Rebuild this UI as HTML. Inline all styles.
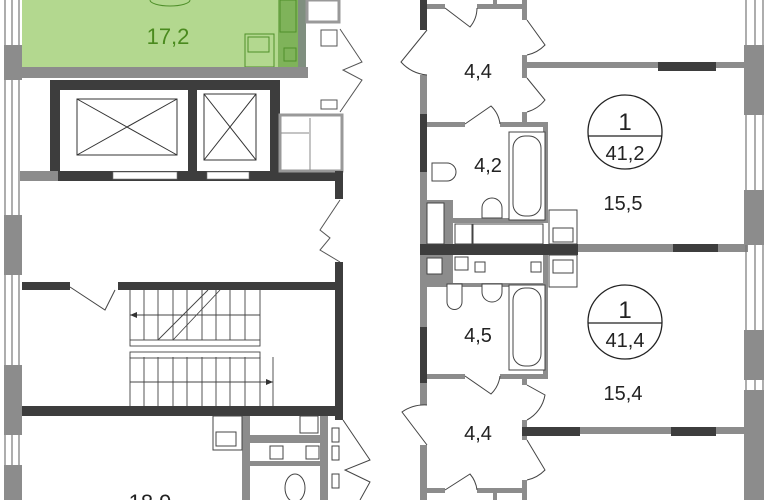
<!DOCTYPE html>
<html><head><meta charset="utf-8"><style>
html,body{margin:0;padding:0;background:#fff;width:770px;height:500px;overflow:hidden}
svg{display:block}
text{font-family:"Liberation Sans",sans-serif}
</style></head><body>
<svg width="770" height="500" viewBox="0 0 770 500" xmlns="http://www.w3.org/2000/svg">
<!-- green apartment -->
<rect x="22" y="0" width="276" height="67" fill="#b3d88f"/>
<rect x="278" y="0" width="20" height="67" fill="#7fb35a"/>
<rect x="298" y="0" width="8" height="70" fill="#7f8f7f"/>
<g fill="none" stroke="#4f8f2a" stroke-width="1">
<rect x="280" y="0" width="16" height="32"/><rect x="284" y="48" width="12" height="13"/>
<rect x="245" y="34" width="29" height="33"/><rect x="248" y="37" width="21" height="15"/>
<path d="M150 0 A20 6 0 0 0 190 0"/>
</g>
<text x="168" y="44" font-size="22" fill="#4a8a1e" text-anchor="middle">17,2</text>
<!-- left exterior wall -->
<g stroke="#777" stroke-width="1.2"><line x1="5" y1="0" x2="5" y2="500"/><line x1="12" y1="0" x2="12" y2="500"/><line x1="19" y1="0" x2="19" y2="500"/></g>
<rect x="4" y="45" width="18" height="35" fill="#8c8c8c"/>
<rect x="4" y="215" width="18" height="60" fill="#8c8c8c"/>
<rect x="4" y="365" width="18" height="70" fill="#8c8c8c"/>
<rect x="4" y="465" width="18" height="35" fill="#8c8c8c"/>
<!-- wall below green -->
<rect x="20" y="67" width="288" height="11" fill="#8c8c8c"/>
<!-- lift block -->
<rect x="50" y="80" width="230" height="100" fill="#3d3d3d"/>
<rect x="60" y="90" width="128" height="81" fill="#fff"/>
<rect x="197" y="90" width="73" height="81" fill="#fff"/>
<rect x="58" y="171" width="285" height="10" fill="#3d3d3d"/>
<rect x="20" y="171" width="38" height="10" fill="#8c8c8c"/>
<rect x="113" y="172" width="64" height="7" fill="#fff" stroke="#777" stroke-width="0.6"/>
<rect x="207" y="172" width="42" height="7" fill="#fff" stroke="#777" stroke-width="0.6"/>
<g fill="none" stroke="#333" stroke-width="1">
<rect x="77" y="99" width="100" height="56"/><path d="M77 99L177 155M177 99L77 155"/>
<rect x="204" y="94" width="52" height="66"/><path d="M204 94L256 160M256 94L204 160"/>
</g>
<rect x="280" y="115" width="62" height="56" fill="#fff" stroke="#999" stroke-width="3"/>
<line x1="310" y1="118" x2="310" y2="170" stroke="#888"/>
<line x1="281" y1="133" x2="309" y2="133" stroke="#888"/>
<rect x="335" y="171" width="8" height="28" fill="#3d3d3d"/>
<rect x="307" y="0" width="32" height="22" fill="#fff" stroke="#999" stroke-width="3"/>
<g fill="none" stroke="#555" stroke-width="1">
<rect x="321" y="30" width="16" height="16"/><rect x="321" y="100" width="16" height="9"/>
<path d="M340 29 L362 62 L343 70 L362 80 L340 112"/>
<path d="M340 200 L320 230 L330 238 L320 250 L340 262"/>
</g>
<!-- stair core -->
<rect x="22" y="282" width="48" height="8" fill="#3d3d3d"/>
<rect x="118" y="282" width="225" height="8" fill="#3d3d3d"/>
<rect x="335" y="262" width="8" height="158" fill="#3d3d3d"/>
<rect x="22" y="406" width="321" height="10" fill="#3d3d3d"/>
<path d="M70 287 L105 310 L115 290" fill="none" stroke="#444"/>
<g stroke="#444" stroke-width="0.9" fill="none">
<path d="M130 290V340M144 290V340M158 290V340M173 290V340M187 290V340M202 290V340M216 290V340M230 290V340M245 290V340M260 290V340"/>
<path d="M130 357V406M144 357V406M158 357V406M173 357V406M187 357V406M202 357V406M216 357V406M230 357V406M245 357V406M260 357V406"/>
<path d="M130 315H260M130 382H273M273 357V406"/>
<rect x="130" y="340" width="130" height="6"/><rect x="130" y="352" width="130" height="6"/>
<path d="M158 340L208 290M173 340L220 290"/>
</g>
<polygon points="130,315 137,312 137,318" fill="#333"/>
<polygon points="273,382 266,379 266,385" fill="#333"/>
<!-- bottom-left rooms -->
<rect x="242" y="416" width="8" height="84" fill="#8c8c8c"/>
<rect x="320" y="416" width="8" height="84" fill="#8c8c8c"/>
<rect x="250" y="435" width="70" height="8" fill="#8c8c8c"/>
<rect x="250" y="461" width="70" height="5" fill="#8c8c8c"/>
<g fill="none" stroke="#444" stroke-width="1">
<rect x="213" y="416" width="29" height="34"/><rect x="216" y="432" width="20" height="14"/>
<rect x="300" y="416" width="18" height="17"/><rect x="270" y="446" width="13" height="13"/><rect x="306" y="446" width="13" height="13"/>
<ellipse cx="295" cy="488" rx="10" ry="14"/>
<rect x="332" y="428" width="7" height="14"/><rect x="332" y="446" width="7" height="14"/><rect x="332" y="474" width="7" height="14"/>
<path d="M343 420 L370 460 L345 470 L370 482 L360 500"/>
</g>
<text x="150" y="510" font-size="22" fill="#222" text-anchor="middle">18,9</text>

<!-- right: left corridor wall x420-427 -->
<rect x="420" y="0" width="7" height="30" fill="#3d3d3d"/>
<rect x="420" y="75" width="7" height="39" fill="#8c8c8c"/>
<rect x="420" y="114" width="7" height="58" fill="#3d3d3d"/>
<rect x="420" y="172" width="7" height="155" fill="#8c8c8c"/>
<rect x="420" y="327" width="7" height="56" fill="#3d3d3d"/>
<rect x="420" y="383" width="7" height="22" fill="#8c8c8c"/>
<rect x="420" y="445" width="7" height="55" fill="#8c8c8c"/>
<!-- hall right walls x522-527 -->
<rect x="522" y="0" width="5" height="20" fill="#8c8c8c"/>
<rect x="522" y="55" width="5" height="23" fill="#8c8c8c"/>
<rect x="522" y="112" width="5" height="12" fill="#8c8c8c"/>
<rect x="522" y="375" width="5" height="10" fill="#8c8c8c"/>
<rect x="522" y="420" width="5" height="20" fill="#8c8c8c"/>
<rect x="522" y="480" width="5" height="20" fill="#8c8c8c"/>
<!-- hall top/bottom walls -->
<rect x="427" y="4" width="18" height="5" fill="#8c8c8c"/>
<rect x="477" y="4" width="50" height="5" fill="#8c8c8c"/>
<rect x="493" y="0" width="4" height="6" fill="#8c8c8c"/>
<rect x="427" y="488" width="18" height="5" fill="#8c8c8c"/>
<rect x="477" y="488" width="50" height="5" fill="#8c8c8c"/>
<rect x="493" y="490" width="4" height="10" fill="#8c8c8c"/>
<!-- horizontal apartment walls -->
<rect x="420" y="244" width="158" height="11" fill="#3d3d3d"/>
<rect x="578" y="244" width="170" height="8" fill="#8c8c8c"/>
<rect x="673" y="244" width="45" height="8" fill="#3d3d3d"/>
<rect x="525" y="62" width="222" height="6" fill="#8c8c8c"/>
<rect x="658" y="62" width="58" height="9" fill="#3d3d3d"/>
<rect x="522" y="427" width="225" height="7" fill="#8c8c8c"/>
<rect x="522" y="427" width="58" height="9" fill="#3d3d3d"/>
<rect x="671" y="427" width="45" height="9" fill="#3d3d3d"/>
<!-- right exterior -->
<g stroke="#777" stroke-width="1.2"><line x1="746" y1="0" x2="746" y2="500"/><line x1="755" y1="0" x2="755" y2="500"/><line x1="763" y1="0" x2="763" y2="500"/></g>
<rect x="744" y="45" width="20" height="70" fill="#8c8c8c"/>
<rect x="744" y="190" width="20" height="55" fill="#8c8c8c"/>
<rect x="744" y="330" width="20" height="50" fill="#8c8c8c"/>
<rect x="744" y="390" width="20" height="110" fill="#8c8c8c"/>
<!-- top bathroom walls -->
<rect x="427" y="122" width="38" height="5" fill="#8c8c8c"/>
<rect x="500" y="122" width="48" height="5" fill="#8c8c8c"/>
<rect x="543" y="122" width="5" height="100" fill="#8c8c8c"/>
<rect x="427" y="200" width="26" height="44" fill="#8c8c8c"/>
<rect x="453" y="218" width="95" height="5" fill="#8c8c8c"/>
<rect x="427" y="255" width="26" height="32" fill="#8c8c8c"/>
<rect x="453" y="283" width="95" height="4" fill="#8c8c8c"/>
<rect x="543" y="255" width="5" height="120" fill="#8c8c8c"/>
<rect x="427" y="374" width="38" height="5" fill="#8c8c8c"/>
<rect x="500" y="374" width="48" height="5" fill="#8c8c8c"/>
<g fill="#fff" stroke="#444" stroke-width="1">
<rect x="427" y="203" width="17" height="41"/><rect x="455" y="224" width="17" height="20"/><rect x="473" y="224" width="70" height="20"/>
<rect x="549" y="210" width="28" height="34"/><rect x="553" y="228" width="20" height="14"/>
<rect x="509" y="132" width="36" height="88"/><rect x="513" y="136" width="28" height="80" rx="12"/>
<path d="M482 218 V208 a10 10 0 0 1 20 0 V218Z"/>
<path d="M432 163h15a9 9 0 0 1 0 18h-15z"/>
<rect x="427" y="258" width="15" height="16"/><rect x="455" y="257" width="13" height="13"/><rect x="475" y="262" width="10" height="10"/><rect x="531" y="262" width="10" height="10"/>
<rect x="549" y="255" width="28" height="32"/><rect x="553" y="260" width="20" height="13"/>
<rect x="509" y="285" width="36" height="85"/><rect x="513" y="288" width="28" height="78" rx="12"/>
<path d="M482 284 h20 v8 a10 10 0 0 1 -20 0Z"/>
<path d="M447 284 h15 v18 a7 7 0 0 1 -15 0Z"/>
</g>
<!-- doors -->
<g fill="none" stroke="#444" stroke-width="1">
<path d="M427 30 L401 62 A40 40 0 0 0 427 75"/>
<path d="M445 8 L470 27 A30 30 0 0 0 477 8"/>
<path d="M527 20 L545 45 A35 35 0 0 1 527 55"/>
<path d="M527 78 L545 100 A35 35 0 0 1 527 112"/>
<path d="M465 124 L491 106 A30 30 0 0 1 500 124"/>
<path d="M465 376 L491 394 A30 30 0 0 0 500 376"/>
<path d="M527 385 L545 395 A35 35 0 0 1 527 420"/>
<path d="M427 405 A40 40 0 0 0 402 412 L427 445"/>
<path d="M527 440 L545 470 A35 35 0 0 1 527 480"/>
<path d="M445 490 L470 474 A30 30 0 0 1 477 490"/>
</g>
<!-- labels -->
<text x="478" y="78" font-size="20" fill="#222" text-anchor="middle">4,4</text>
<text x="488" y="172" font-size="20" fill="#222" text-anchor="middle">4,2</text>
<text x="478" y="342" font-size="20" fill="#222" text-anchor="middle">4,5</text>
<text x="478" y="440" font-size="20" fill="#222" text-anchor="middle">4,4</text>
<text x="623" y="210" font-size="20" fill="#222" text-anchor="middle">15,5</text>
<text x="623" y="400" font-size="20" fill="#222" text-anchor="middle">15,4</text>
<g fill="#fff" stroke="#222" stroke-width="1.3">
<circle cx="625" cy="132" r="37"/><line x1="588" y1="136" x2="662" y2="136"/>
<circle cx="625" cy="322" r="37"/><line x1="588" y1="323" x2="662" y2="323"/>
</g>
<text x="625" y="130" font-size="24" fill="#222" text-anchor="middle">1</text>
<text x="625" y="160" font-size="20" fill="#222" text-anchor="middle">41,2</text>
<text x="625" y="318" font-size="24" fill="#222" text-anchor="middle">1</text>
<text x="625" y="347" font-size="20" fill="#222" text-anchor="middle">41,4</text>
</svg>
</body></html>
